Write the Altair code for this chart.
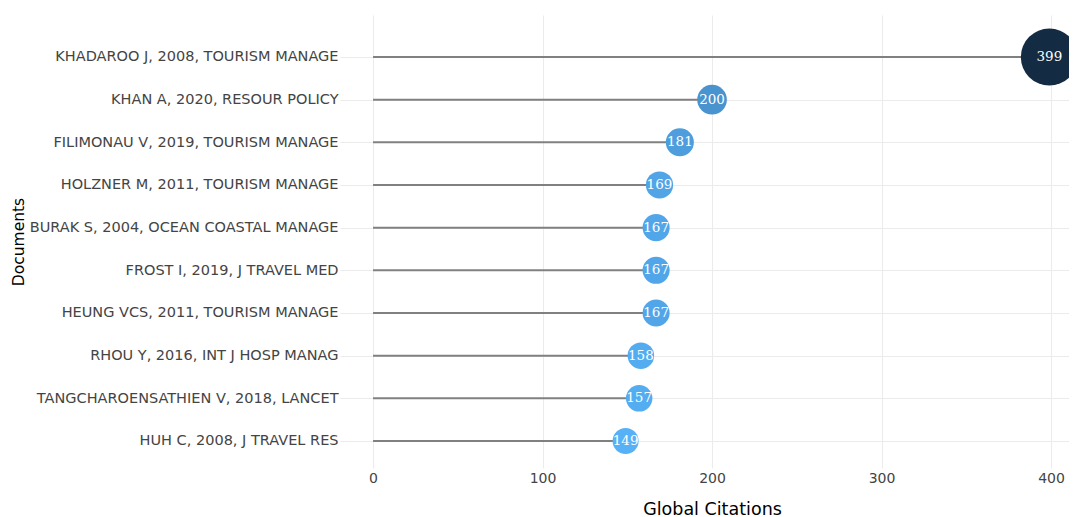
import altair as alt
import pandas as pd

documents = [
    "KHADAROO J, 2008, TOURISM MANAGE",
    "KHAN A, 2020, RESOUR POLICY",
    "FILIMONAU V, 2019, TOURISM MANAGE",
    "HOLZNER M, 2011, TOURISM MANAGE",
    "BURAK S, 2004, OCEAN COASTAL MANAGE",
    "FROST I, 2019, J TRAVEL MED",
    "HEUNG VCS, 2011, TOURISM MANAGE",
    "RHOU Y, 2016, INT J HOSP MANAG",
    "TANGCHAROENSATHIEN V, 2018, LANCET",
    "HUH C, 2008, J TRAVEL RES",
]
citations = [399, 200, 181, 169, 167, 167, 167, 158, 157, 149]
ranks = list(range(1, 11))
x_ticks = [0, 100, 200, 300, 400]

df = pd.DataFrame({"doc": documents, "tc": citations, "rank": ranks, "zero": [0] * len(ranks)})

label_expr = "[" + ",".join("'" + d + "'" for d in documents) + "][datum.value - 1]"

W, H = 729, 453
x_scale = alt.Scale(domain=[-19.5, 410.6], nice=False, zero=False)
y_scale = alt.Scale(domain=[0.0157, 10.633], nice=False, zero=False, reverse=True)

x_axis = alt.Axis(values=x_ticks, title="Global Citations", grid=True, gridColor="#ebebeb",
                  domain=False, ticks=False, labelFont="DejaVu Sans", labelFontSize=14,
                  labelColor="#444444", labelPadding=3, titleFont="DejaVu Sans", titleFontSize=17.5,
                  titleFontWeight="normal", titleColor="#000000",
                  titleX=372, titleY=41, titleAlign="center", titleBaseline="middle")
y_axis = alt.Axis(values=ranks, labelExpr=label_expr, title="Documents", grid=True, gridColor="#ebebeb",
                  domain=False, ticks=False, labelFont="DejaVu Sans", labelFontSize=14.5,
                  labelColor="#444444", labelPadding=2, labelLimit=500, titleFont="DejaVu Sans",
                  titleFontSize=15.5, titleFontWeight="normal", titleColor="#000000",
                  titleX=-322, titleY=H / 2, titleAlign="center", titleBaseline="middle", titleAngle=270)

stems = alt.Chart(df).mark_rule(color="#808080", strokeWidth=2).encode(
    x=alt.X("zero:Q", scale=x_scale, axis=x_axis),
    x2="tc:Q",
    y=alt.Y("rank:Q", scale=y_scale, axis=y_axis),
)

dots = alt.Chart(df).mark_circle(opacity=1).encode(
    x=alt.X("tc:Q", scale=x_scale),
    y=alt.Y("rank:Q", scale=y_scale),
    size=alt.Size("tc:Q", scale=alt.Scale(type="pow", exponent=3, domain=[149, 399], range=[676, 3249]), legend=None),
    color=alt.Color("tc:Q", scale=alt.Scale(domain=[149, 399], range=["#56B1F7", "#132B43"]), legend=None),
)

labels = alt.Chart(df).mark_text(color="white", font="DejaVu Serif", fontSize=13.5).encode(
    x=alt.X("tc:Q", scale=x_scale),
    y=alt.Y("rank:Q", scale=y_scale),
    text="tc:Q",
)

chart = alt.layer(stems, dots, labels).properties(
    width=W, height=H,
    autosize=alt.AutoSizeParams(type="none"),
    padding={"left": 332, "top": 7, "right": 0, "bottom": 49},
).configure_view(stroke=None)

chart.save("out.html", embed_options={"renderer": "svg", "actions": False})
